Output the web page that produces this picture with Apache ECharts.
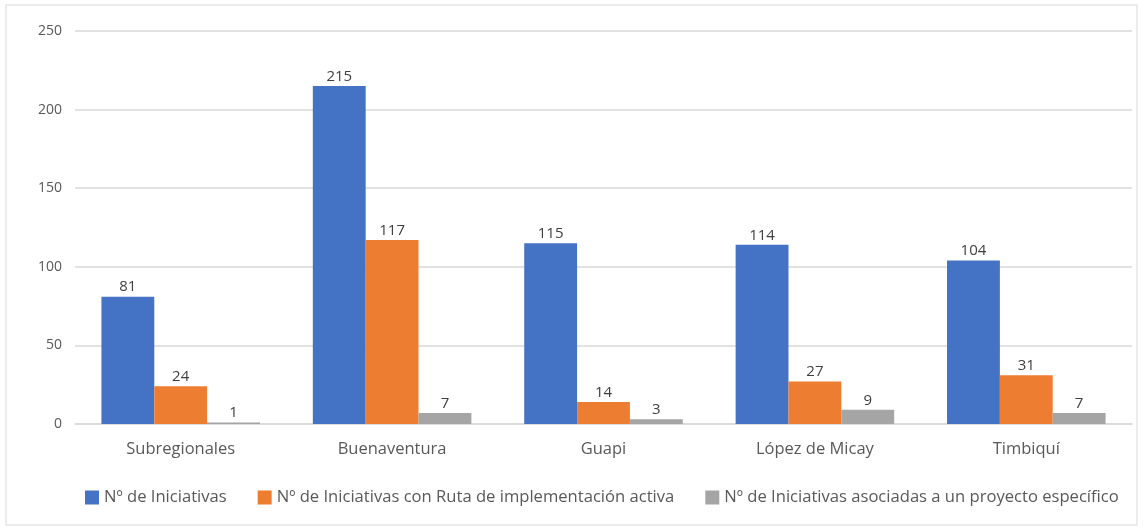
<!DOCTYPE html>
<html><head><meta charset="utf-8">
<script src="https://cdn.jsdelivr.net/npm/echarts@6/dist/echarts.min.js"></script>
<style>html,body{margin:0;padding:0;background:#fff}#c{width:1147px;height:529px}</style>
</head><body><div id="c"></div>
<script>
const categories = ['Subregionales','Buenaventura','Guapi','López de Micay','Timbiquí'];
const seriesNames = ['Nº de Iniciativas','Nº de Iniciativas con Ruta de implementación activa','Nº de Iniciativas asociadas a un proyecto específico'];
const iniciativas = [81,215,115,114,104];
const rutaActiva = [24,117,14,27,31];
const proyecto = [1,7,3,9,7];
const colors = ['#4472C4','#ED7D31','#A5A5A5'];
const font = '"Open Sans", "Noto Sans", sans-serif';
const chart = echarts.init(document.getElementById('c'));
const mk = (name, data, color) => ({
  name, type:'bar', data, barGap:'0%', barCategoryGap:'25%',
  itemStyle:{color},
  label:{show:true, position:'top', color:'#404040', fontSize:15, fontFamily:font, distance:2}
});
chart.setOption({
  animation:false,
  textStyle:{fontFamily:font},
  graphic:[{type:'rect', shape:{x:6,y:5,width:1131,height:520}, style:{fill:'none', stroke:'#e6e6e6', lineWidth:1.5}, silent:true}],
  grid:{left:75, right:15, top:31, bottom:105},
  legend:{bottom:18, left:80, itemWidth:14, itemHeight:14, itemGap:31,
    textStyle:{color:'#595959', fontSize:16.6, fontFamily:font},
    data:seriesNames.map(n=>({name:n, icon:'rect'}))},
  xAxis:{type:'category', data:categories,
    axisLine:{lineStyle:{color:'#d9d9d9', width:1.5}}, axisTick:{show:false},
    axisLabel:{color:'#595959', fontSize:16.5, margin:17, fontFamily:font}},
  yAxis:{type:'value', min:0, max:250, interval:50,
    axisLine:{show:false}, axisTick:{show:false},
    splitLine:{lineStyle:{color:'#d9d9d9', width:1.5}},
    axisLabel:{color:'#595959', fontSize:14, margin:13, fontFamily:font}},
  series:[mk(seriesNames[0], iniciativas, colors[0]), mk(seriesNames[1], rutaActiva, colors[1]), mk(seriesNames[2], proyecto, colors[2])]
});
</script></body></html>
